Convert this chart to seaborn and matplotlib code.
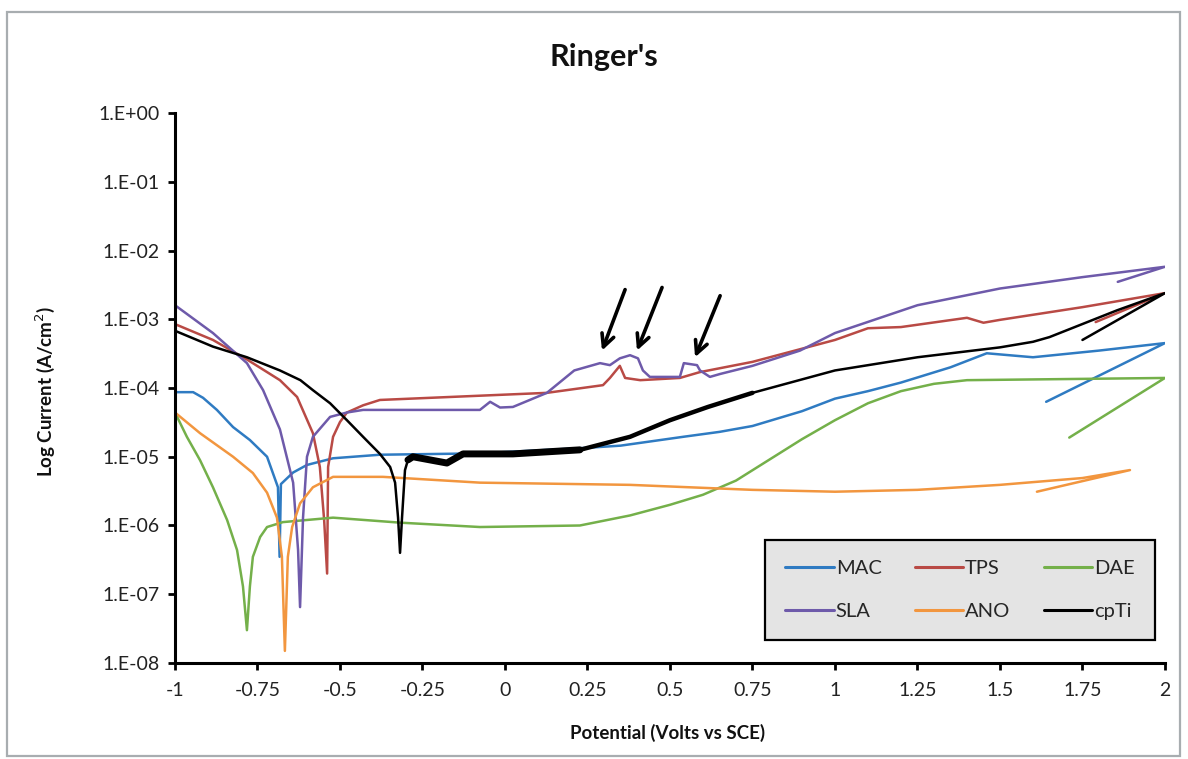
import numpy as np
import pandas as pd
import matplotlib
matplotlib.use("Agg")
import matplotlib.pyplot as plt
import matplotlib.ticker as mticker
from matplotlib.patches import Rectangle
import seaborn as sns

# potential (V vs SCE) / current density (A/cm2)
mac_v = [-1.00, -0.945, -0.915, -0.873, -0.824, -0.773, -0.721, -0.688, -0.683, -0.679, -0.642, -0.60,
         -0.521, -0.379, -0.076, 0.25, 0.35, 0.54, 0.65, 0.75, 0.90, 1.00, 1.10, 1.20, 1.35, 1.46, 1.60,
         1.80, 2.00, 1.64]
mac_i = [8.7e-5, 8.7e-5, 7.2e-5, 4.8e-5, 2.7e-5, 1.75e-5, 1.0e-5, 3.6e-6, 3.5e-7, 4.0e-6, 5.9e-6, 7.6e-6,
         9.5e-6, 1.07e-5, 1.12e-5, 1.35e-5, 1.45e-5, 1.95e-5, 2.3e-5, 2.8e-5, 4.6e-5, 7.0e-5, 9.0e-5,
         1.2e-4, 2.0e-4, 3.2e-4, 2.8e-4, 3.5e-4, 4.5e-4, 6.3e-5]

tps_v = [-1.00, -0.885, -0.782, -0.682, -0.630, -0.582, -0.561, -0.548, -0.539, -0.536, -0.521, -0.500,
         -0.479, -0.43, -0.379, 0.127, 0.297, 0.318, 0.348, 0.364, 0.41, 0.53, 0.59, 0.75, 1.00, 1.10,
         1.20, 1.40, 1.45, 1.50, 1.75, 2.00, 1.79]
tps_i = [8.5e-4, 5.0e-4, 2.6e-4, 1.3e-4, 7.4e-5, 2.2e-5, 7.1e-6, 1.2e-6, 2.0e-7, 7.1e-6, 1.95e-5, 3.2e-5,
         4.4e-5, 5.6e-5, 6.7e-5, 8.5e-5, 1.1e-4, 1.4e-4, 2.1e-4, 1.4e-4, 1.3e-4, 1.4e-4, 1.7e-4, 2.4e-4,
         5.0e-4, 7.4e-4, 7.7e-4, 1.05e-3, 8.9e-4, 9.8e-4, 1.5e-3, 2.4e-3, 9.1e-4]

dae_v = [-1.00, -0.964, -0.924, -0.885, -0.842, -0.812, -0.794, -0.782, -0.773, -0.764, -0.742, -0.721,
         -0.673, -0.521, -0.318, -0.076, 0.227, 0.379, 0.50, 0.60, 0.70, 0.80, 0.90, 1.00, 1.10, 1.20,
         1.30, 1.40, 2.00, 1.71]
dae_i = [4.4e-5, 1.95e-5, 8.9e-6, 3.6e-6, 1.2e-6, 4.4e-7, 1.3e-7, 3.0e-8, 1.3e-7, 3.5e-7, 6.8e-7, 9.5e-7,
         1.12e-6, 1.3e-6, 1.1e-6, 9.5e-7, 1.0e-6, 1.4e-6, 2.0e-6, 2.8e-6, 4.5e-6, 9.0e-6, 1.8e-5, 3.4e-5,
         6.0e-5, 9.0e-5, 1.15e-4, 1.3e-4, 1.4e-4, 1.9e-5]

sla_v = [-1.00, -0.885, -0.782, -0.733, -0.682, -0.642, -0.627, -0.621, -0.612, -0.600, -0.582, -0.53,
         -0.479, -0.43, -0.076, -0.045, -0.015, 0.024, 0.127, 0.21, 0.288, 0.318, 0.348, 0.379, 0.403,
         0.418, 0.439, 0.53, 0.542, 0.582, 0.591, 0.621, 0.652, 0.75, 0.894, 1.00, 1.25, 1.50, 1.75,
         2.00, 1.857]
sla_i = [1.6e-3, 6.3e-4, 2.3e-4, 9.3e-5, 2.5e-5, 4.2e-6, 4.4e-7, 6.5e-8, 1.3e-6, 1.0e-5, 1.95e-5, 3.8e-5,
         4.4e-5, 4.8e-5, 4.8e-5, 6.3e-5, 5.2e-5, 5.3e-5, 8.5e-5, 1.8e-4, 2.3e-4, 2.15e-4, 2.7e-4, 3.0e-4,
         2.7e-4, 1.8e-4, 1.45e-4, 1.45e-4, 2.3e-4, 2.15e-4, 1.8e-4, 1.45e-4, 1.6e-4, 2.1e-4, 3.5e-4,
         6.3e-4, 1.6e-3, 2.8e-3, 4.1e-3, 5.8e-3, 3.5e-3]

ano_v = [-1.00, -0.924, -0.824, -0.764, -0.721, -0.691, -0.676, -0.667, -0.658, -0.645, -0.621, -0.582,
         -0.521, -0.37, -0.076, 0.379, 0.75, 1.00, 1.25, 1.50, 1.75, 1.894, 1.612]
ano_i = [4.4e-5, 2.2e-5, 1.0e-5, 5.8e-6, 3.0e-6, 1.3e-6, 3.5e-7, 1.5e-8, 3.5e-7, 9.5e-7, 2.1e-6, 3.6e-6,
         5.1e-6, 5.1e-6, 4.2e-6, 3.9e-6, 3.3e-6, 3.1e-6, 3.3e-6, 3.9e-6, 4.9e-6, 6.4e-6, 3.1e-6]

cpti_v = [-1.00, -0.885, -0.782, -0.682, -0.620, -0.582, -0.53, -0.479, -0.43, -0.379, -0.348, -0.333,
          -0.324, -0.318, -0.312, -0.303, -0.294, -0.279, -0.176, -0.127, 0.024, 0.227, 0.31, 0.379,
          0.50, 0.615, 0.75, 1.00, 1.25, 1.50, 1.60, 1.65, 1.855, 2.00, 1.75]
cpti_i = [6.8e-4, 4.0e-4, 2.8e-4, 1.8e-4, 1.3e-4, 9.3e-5, 6.0e-5, 3.4e-5, 1.95e-5, 1.1e-5, 7.1e-6, 4.2e-6,
          1.3e-6, 4.0e-7, 1.3e-6, 6.4e-6, 9.0e-6, 1.0e-5, 8.1e-6, 1.1e-5, 1.1e-5, 1.26e-5, 1.6e-5, 1.95e-5,
          3.4e-5, 5.3e-5, 8.5e-5, 1.8e-4, 2.8e-4, 3.9e-4, 4.7e-4, 5.5e-4, 1.35e-3, 2.4e-3, 5.0e-4]

SERIES = [
    ("MAC", mac_v, mac_i, "#2F7BC2"),
    ("TPS", tps_v, tps_i, "#B94A45"),
    ("DAE", dae_v, dae_i, "#74B04A"),
    ("SLA", sla_v, sla_i, "#6E5AAA"),
    ("ANO", ano_v, ano_i, "#F2963F"),
    ("cpTi", cpti_v, cpti_i, "#000000"),
]

# arrows marking the peaks on SLA: tip and tail (potential, current)
arrow_tip_v = [0.294, 0.400, 0.576]
arrow_tip_i = [3.5e-4, 3.5e-4, 2.8e-4]
arrow_tail_v = [0.364, 0.476, 0.652]
arrow_tail_i = [2.7e-3, 2.9e-3, 2.2e-3]

x_ticks = [-1, -0.75, -0.5, -0.25, 0, 0.25, 0.5, 0.75, 1, 1.25, 1.5, 1.75, 2]
y_ticks = [1e-8, 1e-7, 1e-6, 1e-5, 1e-4, 1e-3, 1e-2, 1e-1, 1e0]

sns.set_style("ticks")
plt.rcParams["font.family"] = ["Lato", "DejaVu Sans"]

fig = plt.figure(figsize=(11.88, 7.59), dpi=100)
fig.patch.set_facecolor("white")
fig.patches.append(Rectangle((7 / 1188, 3 / 759), 1173 / 1188, 744 / 759, transform=fig.transFigure,
                             fill=False, edgecolor="#a8adb0", linewidth=1.6))

ax = fig.add_axes([0.1473, 0.1265, 0.8333, 0.7246])
ax.set_yscale("log")

handles = {}
for name, v, i, color in SERIES:
    df = pd.DataFrame({"potential": v, "current": i})
    sns.lineplot(data=df, x="potential", y="current", sort=False, estimator=None,
                 color=color, linewidth=1.8, ax=ax, label=name)
    handles[name] = ax.get_lines()[-1]

# noisy stretch of the cpTi scan, drawn heavier
cp = pd.DataFrame({"potential": cpti_v, "current": cpti_i})
heavy = cp[(cp["potential"] >= -0.30) & (cp["potential"] <= 0.25)]
medium = cp[(cp["potential"] >= 0.2) & (cp["potential"] <= 0.75)]
sns.lineplot(data=heavy, x="potential", y="current", sort=False, estimator=None,
             color="black", linewidth=5, ax=ax, legend=False)
sns.lineplot(data=medium, x="potential", y="current", sort=False, estimator=None,
             color="black", linewidth=3.2, ax=ax, legend=False)

for tv, ti, sv, si in zip(arrow_tip_v, arrow_tip_i, arrow_tail_v, arrow_tail_i):
    ax.annotate("", xy=(tv, ti), xytext=(sv, si),
                arrowprops=dict(arrowstyle="->,head_length=0.9,head_width=0.45",
                                color="black", lw=2.6, shrinkA=0, shrinkB=0))

ax.set_xlim(-1, 2)
ax.set_ylim(1e-8, 1)
ax.set_xticks(x_ticks)
ax.xaxis.set_major_formatter(mticker.FuncFormatter(lambda v, p: f"{v:g}"))
ax.set_yticks(y_ticks)
ax.yaxis.set_minor_locator(mticker.NullLocator())
ax.yaxis.set_major_formatter(mticker.FuncFormatter(lambda v, p: f"1.E{int(round(np.log10(v))):+03d}"))
ax.tick_params(axis="both", direction="out", length=5, width=2, color="black",
               labelsize=14, labelcolor="#222222", pad=6)
ax.tick_params(axis="x", pad=9)
for side in ["top", "right"]:
    ax.spines[side].set_visible(False)
for side in ["left", "bottom"]:
    ax.spines[side].set_linewidth(2.2)
    ax.spines[side].set_color("black")
ax.set_xlabel("")
ax.set_ylabel("")

fig.text(0.508, 0.925, "Ringer's", ha="center", va="center", fontsize=22, fontweight="bold", color="#111111")
fig.text(0.562, 0.034, "Potential (Volts vs SCE)", ha="center", va="center", fontsize=13.5,
         fontweight="bold", color="#111111")
fig.text(0.038, 0.485, "Log Current (A/cm$^2$)", ha="center", va="center", rotation=90, fontsize=13.5,
         fontweight="bold", color="#111111")

order = ["MAC", "SLA", "TPS", "ANO", "DAE", "cpTi"]
leg = ax.legend([handles[n] for n in order], order, ncol=3, loc="lower left",
                bbox_to_anchor=(0.586, 0.024, 0.414, 0.196), mode="expand",
                fontsize=14.5, frameon=True, fancybox=False, framealpha=1,
                facecolor="#e4e4e4", edgecolor="black", handlelength=2.4, handletextpad=0.1,
                labelspacing=1.25, borderpad=1.0, columnspacing=1.5)
leg.get_frame().set_linewidth(1.6)
for line in leg.get_lines():
    line.set_linewidth(2.2)

fig.savefig("out.png", dpi=100)
